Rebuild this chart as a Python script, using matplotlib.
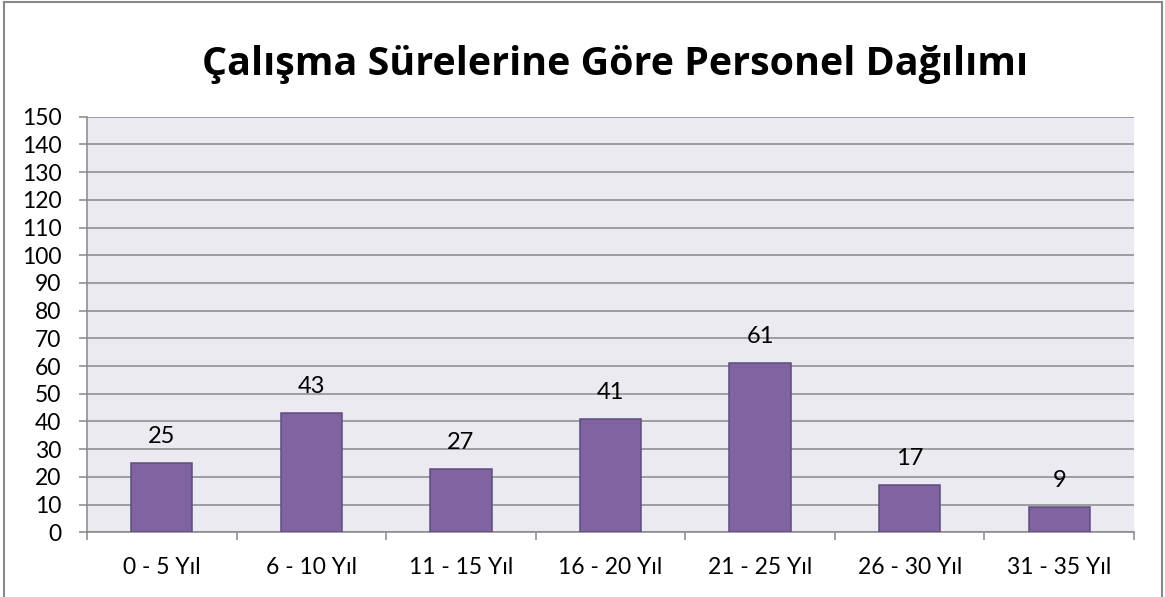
import matplotlib
matplotlib.use("Agg")
import matplotlib.pyplot as plt
from matplotlib.lines import Line2D

categories = ["0 - 5 Yıl", "6 - 10 Yıl", "11 - 15 Yıl", "16 - 20 Yıl",
              "21 - 25 Yıl", "26 - 30 Yıl", "31 - 35 Yıl"]
bar_heights = [25, 43, 23, 41, 61, 17, 9]
label_texts = ["25", "43", "27", "41", "61", "17", "9"]
y_ticks = list(range(0, 151, 10))
title = "Çalışma Sürelerine Göre Personel Dağılımı"

plt.rcParams["font.family"] = ["Lato", "DejaVu Sans"]

W, H = 1165, 597
fig = plt.figure(figsize=(W / 100, H / 100), dpi=100)
fig.patch.set_facecolor("white")

ax = fig.add_axes([87 / W, 1 - 532.3 / H, (1134 - 87) / W, (532.3 - 116.8) / H])
ax.set_facecolor("#ECEAF1")

x = list(range(len(categories)))
bars = ax.bar(x, bar_heights, width=0.41, color="#8064A2",
              edgecolor="#5F4B80", linewidth=1.1, zorder=3)

for xi, h, t in zip(x, bar_heights, label_texts):
    ax.annotate(t, (xi, h), xytext=(0, 11.5), textcoords="offset points",
                ha="center", va="bottom", fontsize=17, color="black")

ax.set_xlim(-0.5, len(categories) - 0.5)
ax.set_ylim(0, 150)
ax.set_yticks(y_ticks)
ax.set_yticklabels([str(v) for v in y_ticks], fontsize=16.5)
ax.yaxis.grid(True, color="#888888", linewidth=1.1, zorder=1)
ax.set_axisbelow(True)

ax.set_xticks(x)
ax.set_xticklabels(categories, fontsize=16.5)
ax.set_xticks([i - 0.5 for i in range(len(categories) + 1)], minor=True)
ax.tick_params(axis="x", which="major", length=0, pad=18)
ax.tick_params(axis="x", which="minor", length=6, width=1.1, color="#888888", direction="out")
ax.tick_params(axis="y", which="major", length=5.5, width=1.1, color="#888888", pad=13)

for s in ["top", "right"]:
    ax.spines[s].set_visible(False)
for s in ["left", "bottom"]:
    ax.spines[s].set_color("#888888")
    ax.spines[s].set_linewidth(1.1)

fig.text(615 / W, 1 - 65 / H, title, ha="center", va="center",
         fontsize=28.4, fontweight="bold", color="black",
         family=["Open Sans", "DejaVu Sans"])

# outer chart frame
frame_kw = dict(color="#888888", linewidth=1.5, transform=fig.transFigure)
fig.add_artist(Line2D([4 / W, 4 / W], [0, 1 - 2 / H], **frame_kw))
fig.add_artist(Line2D([1162 / W, 1162 / W], [0, 1 - 2 / H], **frame_kw))
fig.add_artist(Line2D([4 / W, 1162 / W], [1 - 2 / H, 1 - 2 / H], **frame_kw))

fig.savefig("out.png", dpi=100, facecolor="white")
